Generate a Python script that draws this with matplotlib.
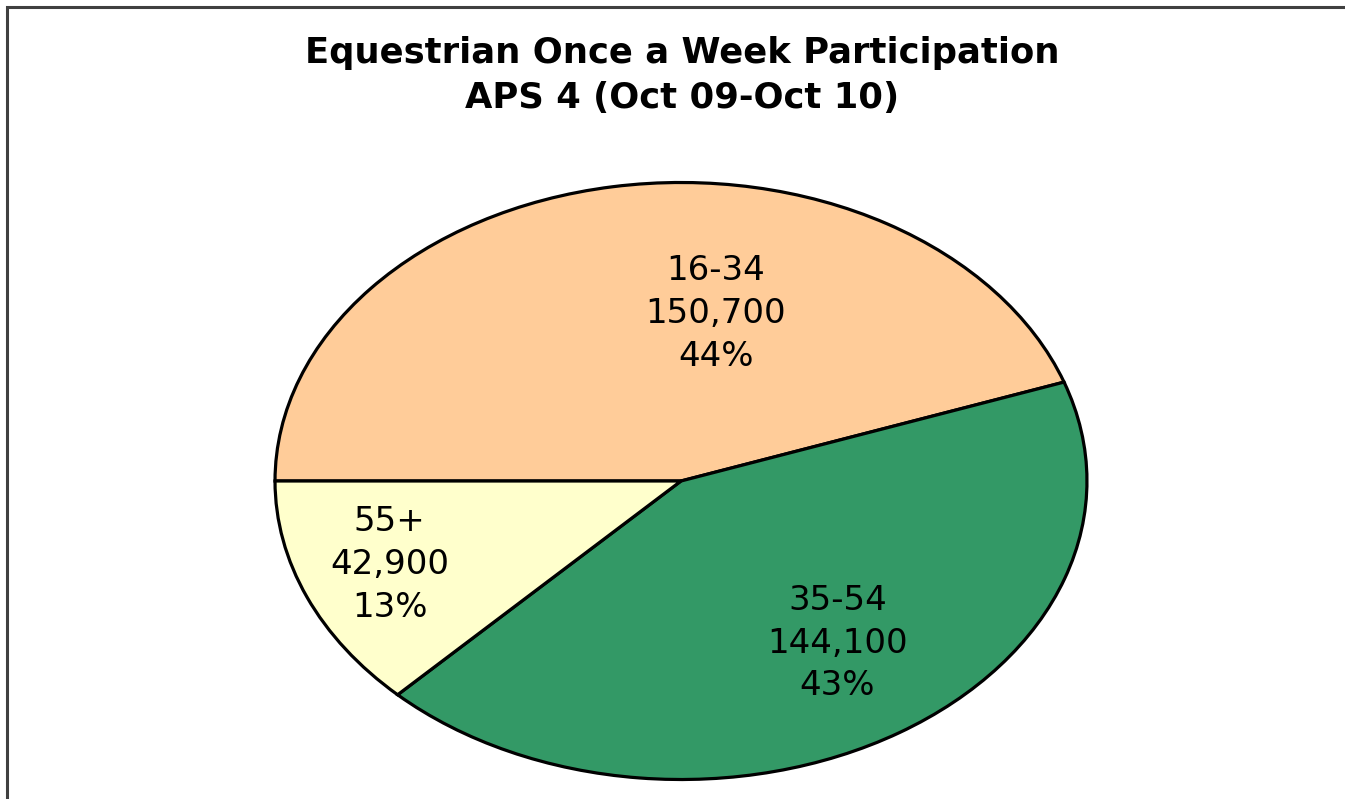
import matplotlib.pyplot as plt
from matplotlib.patches import Rectangle

# data
categories = ["16-34", "35-54", "55+"]
participants = [150700, 144100, 42900]
percent_labels = [44, 43, 13]
colors = ["#FFCC99", "#339966", "#FFFFCC"]

plt.rcParams['font.family'] = ['DejaVu Sans']

fig = plt.figure(figsize=(13.45, 7.99), dpi=100)

# outer frame (runs off the right and bottom edge)
fig.patches.append(Rectangle((7 / 1345, -0.1), 1.2, 1 - 7 / 799 + 0.1,
                             transform=fig.transFigure, fill=False,
                             edgecolor="#404040", linewidth=2.2))

fig.text(0.507, 1 - 53 / 799, "Equestrian Once a Week Participation",
         ha="center", va="center", fontsize=25.5, fontweight="bold")
fig.text(0.507, 1 - 98 / 799, "APS 4 (Oct 09-Oct 10)",
         ha="center", va="center", fontsize=25.5, fontweight="bold")

# elliptical pie: axes box = bounding box of the ellipse
ax = fig.add_axes([(681 - 408) / 1345, 1 - 781 / 799, 816 / 1345, 600 / 799])
wedges, texts = ax.pie(participants, colors=colors, startangle=180,
                       counterclock=False,
                       labels=[f"{c}\n{v:,}\n{p}%" for c, v, p in
                               zip(categories, participants, percent_labels)],
                       labeldistance=0.6,
                       wedgeprops=dict(edgecolor="black", linewidth=2.3),
                       textprops=dict(fontsize=24.5, ha="center", va="center",
                                      linespacing=1.38))
ax.set_aspect("auto")
ax.set_xlim(-1.005, 1.005)
ax.set_ylim(-1.005, 1.005)
ax.axis("off")

# label placement as in the original
label_pos = [(0.086, 0.56), (0.385, -0.543), (-0.718, -0.28)]
for t, pos in zip(texts, label_pos):
    t.set_position(pos)
    t.set_ha("center")
    t.set_va("center")

fig.savefig("out.png", dpi=100)
